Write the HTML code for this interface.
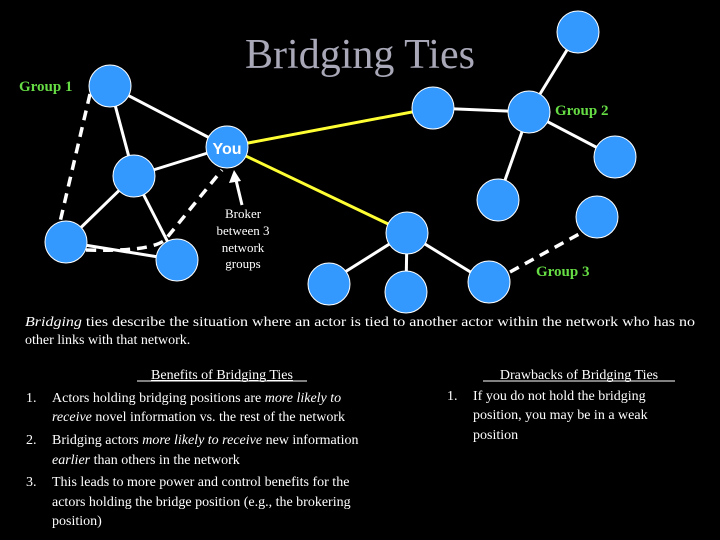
<!DOCTYPE html>
<html><head><meta charset="utf-8"><style>
html,body{margin:0;padding:0;background:#000;width:720px;height:540px;overflow:hidden}
svg{display:block}
.t{font-family:"Liberation Serif",serif;font-size:14px;fill:#fff}
.g{font-family:"Liberation Serif",serif;font-size:15px;font-weight:bold;fill:#66dd44}
</style></head><body>
<svg width="720" height="540" viewBox="0 0 720 540">
<rect width="720" height="540" fill="#000"/>
<text x="360" y="68" text-anchor="middle" font-family="Liberation Serif,serif" font-size="42" fill="#a8a8b8">Bridging Ties</text>
<g stroke="#fff" stroke-width="3" fill="none">
<line x1="110" y1="86" x2="227" y2="147"/>
<line x1="110" y1="86" x2="134" y2="176"/>
<line x1="134" y1="176" x2="227" y2="147"/>
<line x1="134" y1="176" x2="66" y2="242"/>
<line x1="134" y1="176" x2="177" y2="260"/>
<line x1="66" y1="242" x2="177" y2="260"/>
<line x1="433" y1="108" x2="529" y2="112"/>
<line x1="529" y1="112" x2="578" y2="32"/>
<line x1="529" y1="112" x2="615" y2="157"/>
<line x1="529" y1="112" x2="498" y2="200"/>
<line x1="407" y1="233" x2="329" y2="282"/>
<line x1="407" y1="233" x2="406" y2="290"/>
<line x1="407" y1="233" x2="490" y2="284"/>
</g>
<g stroke="#fff" stroke-width="3.5" fill="none" stroke-dasharray="10,7">
<line x1="90" y1="94" x2="60" y2="222"/>
<path d="M86 250 Q150 252 165 240 L222 170"/>
<line x1="510" y1="272" x2="590" y2="228"/>
</g>
<g stroke="#ffff33" stroke-width="3">
<line x1="227" y1="147" x2="433" y2="108"/>
<line x1="227" y1="147" x2="407" y2="233"/>
</g>
<line x1="242" y1="205" x2="236" y2="180" stroke="#fff" stroke-width="3"/>
<polygon points="234,170 229,183 241,181" fill="#fff"/>
<g fill="#3399ff" stroke="#fff" stroke-width="1">
<circle cx="110" cy="86" r="21"/>
<circle cx="227" cy="147" r="21"/>
<circle cx="134" cy="176" r="21"/>
<circle cx="66" cy="242" r="21"/>
<circle cx="177" cy="260" r="21"/>
<circle cx="433" cy="108" r="21"/>
<circle cx="529" cy="112" r="21"/>
<circle cx="578" cy="32" r="21"/>
<circle cx="615" cy="157" r="21"/>
<circle cx="498" cy="200" r="21"/>
<circle cx="597" cy="217" r="21"/>
<circle cx="407" cy="233" r="21"/>
<circle cx="329" cy="284" r="21"/>
<circle cx="406" cy="292" r="21"/>
<circle cx="489" cy="282" r="21"/>
</g>
<text x="227" y="154" text-anchor="middle" font-family="Liberation Sans,sans-serif" font-weight="bold" font-size="16" fill="#fff">You</text>
<text class="g" x="19" y="91">Group 1</text>
<text class="g" x="555" y="115">Group 2</text>
<text class="g" x="536" y="276">Group 3</text>
<g class="t" text-anchor="middle" style="font-size:13px">
<text x="243" y="218">Broker</text>
<text x="243" y="235">between 3</text>
<text x="243" y="252">network</text>
<text x="243" y="268">groups</text>
</g>
<text class="t" x="25" y="326" textLength="670" lengthAdjust="spacingAndGlyphs"><tspan font-style="italic">Bridging</tspan> ties describe the situation where an actor is tied to another actor within the network who has no</text>
<text class="t" x="25" y="344">other links with that network.</text>
<text class="t" x="222" y="379" text-anchor="middle" text-decoration="underline">Benefits of Bridging Ties</text>
<line x1="137" y1="381" x2="307" y2="381" stroke="#fff" stroke-width="1"/>
<text class="t" x="26" y="402">1.</text>
<text class="t" x="52" y="402">Actors holding bridging positions are <tspan font-style="italic">more likely to</tspan></text>
<text class="t" x="52" y="421"><tspan font-style="italic">receive</tspan> novel information vs. the rest of the network</text>
<text class="t" x="26" y="444">2.</text>
<text class="t" x="52" y="444">Bridging actors <tspan font-style="italic">more likely to receive</tspan> new information</text>
<text class="t" x="52" y="464"><tspan font-style="italic">earlier</tspan> than others in the network</text>
<text class="t" x="26" y="486">3.</text>
<text class="t" x="52" y="486">This leads to more power and control benefits for the</text>
<text class="t" x="52" y="506">actors holding the bridge position (e.g., the brokering</text>
<text class="t" x="52" y="525">position)</text>
<text class="t" x="579" y="379" text-anchor="middle">Drawbacks of Bridging Ties</text>
<line x1="483" y1="381" x2="675" y2="381" stroke="#fff" stroke-width="1"/>
<text class="t" x="447" y="400">1.</text>
<text class="t" x="473" y="400">If you do not hold the bridging</text>
<text class="t" x="473" y="419">position, you may be in a weak</text>
<text class="t" x="473" y="439">position</text>
</svg>
</body></html>
